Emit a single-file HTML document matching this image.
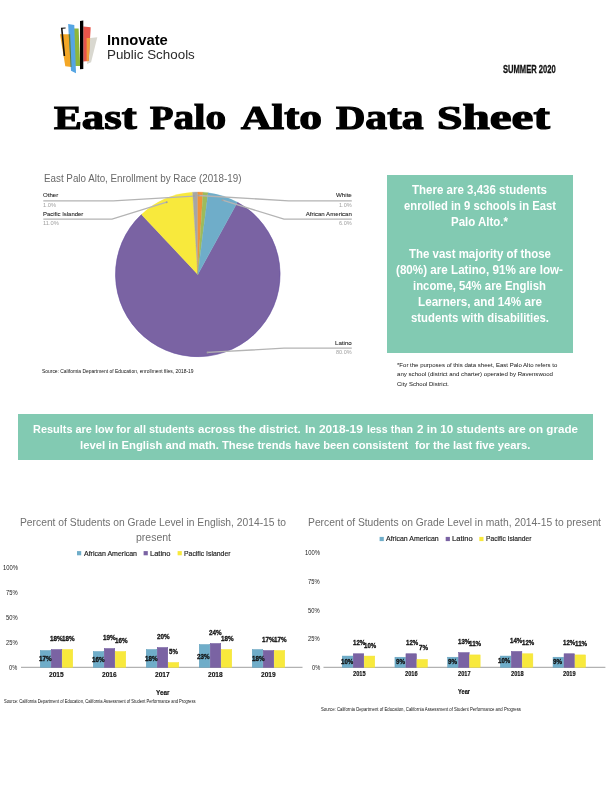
<!DOCTYPE html><html><head><meta charset="utf-8"><title>East Palo Alto Data Sheet</title><style>
html,body{margin:0;padding:0;background:#fff}
body{width:612px;height:792px;position:relative;overflow:hidden;font-family:"Liberation Sans",sans-serif}
.t{position:absolute;white-space:nowrap;line-height:1;transform-origin:0 50%}
#w{position:absolute;left:0;top:0;width:612px;height:792px;will-change:transform}
</style></head><body><div id="w">
<svg style="position:absolute;left:0;top:0" width="612" height="100" viewBox="0 0 612 100">
<polygon points="90.3,38 97.3,37.2 91.1,62.2 87,63.9" fill="#d9d8d0"/>
<polygon points="83.3,26.5 90.7,27.3 88.7,61 83.3,61.4" fill="#e8554a"/>
<polygon points="86.6,38 90.2,38 88.7,61 86.6,61.2" fill="#f0a03c"/>
<polygon points="60,34.3 70.2,34.3 71.6,67 65.3,66.3" fill="#f4a726"/>
<polygon points="60.9,27.8 65.6,27.5 65.6,28.4 62.6,28.7 65.2,56 63.6,56" fill="#111"/>
<polygon points="73.5,28.5 78.6,28.5 80.2,65.9 75.1,65.9" fill="#8fb63a"/>
<polygon points="68.1,24 74.3,24.9 76,73.3 71,70.8" fill="#55a5e3"/>
<polygon points="68.7,34.3 70.1,34.3 71.5,67 70.7,66.9" fill="#5f7d3a"/>
<polygon points="80,20.9 83.3,20.6 83.3,69 80,69.3" fill="#000"/>
</svg>
<svg style="position:absolute;left:0;top:0" width="612" height="400" viewBox="0 0 612 400"><path d="M197.8,274.4 L237.45,202.28 A82.3,82.3 0 1 1 141.46,214.41 Z" fill="#7a63a3" stroke="#7a63a3" stroke-width="0.35"/><path d="M197.8,274.4 L141.46,214.41 A82.3,82.3 0 0 1 192.63,192.26 Z" fill="#f8e93c" stroke="#f8e93c" stroke-width="0.35"/><path d="M197.8,274.4 L192.63,192.26 A82.3,82.3 0 0 1 197.80,192.10 Z" fill="#a6a6a6" stroke="#a6a6a6" stroke-width="0.35"/><path d="M197.8,274.4 L197.80,192.10 A82.3,82.3 0 0 1 202.97,192.26 Z" fill="#ef923c" stroke="#ef923c" stroke-width="0.35"/><path d="M197.8,274.4 L202.97,192.26 A82.3,82.3 0 0 1 208.11,192.75 Z" fill="#9dbb5c" stroke="#9dbb5c" stroke-width="0.35"/><path d="M197.8,274.4 L208.11,192.75 A82.3,82.3 0 0 1 237.45,202.28 Z" fill="#6fadc9" stroke="#6fadc9" stroke-width="0.35"/><path d="M237.35,202.46 A82.1,82.1 0 1 1 141.60,214.55" fill="none" stroke="#6650a0" stroke-width="0.5"/><g fill="none" stroke="#b4b4b4" stroke-width="1.3"><polyline points="43.3,200.8 113.3,200.8 193.9,196.1"/><polyline points="43.3,219.1 112,219.1 166.7,202.2"/><polyline points="351.8,200.8 288.7,200.8 198.6,195.5"/><polyline points="351.8,219.1 284,219.1 222.5,200.2"/><polyline points="351.8,348.2 284,348.2 207.6,352.4"/></g><circle cx="193.9" cy="196.1" r="1" fill="#a0a0a0"/><circle cx="166.7" cy="202.2" r="1" fill="#a0a0a0"/><circle cx="198.6" cy="195.5" r="1" fill="#a0a0a0"/><circle cx="222.5" cy="200.2" r="1" fill="#a0a0a0"/><circle cx="207.6" cy="352.4" r="1" fill="#a0a0a0"/></svg>
<div style="position:absolute;left:386.5px;top:175px;width:186.5px;height:177.5px;background:#82cab2"></div>
<div style="position:absolute;left:18.4px;top:414.1px;width:575.1px;height:45.8px;background:#82cab2"></div>
<svg style="position:absolute;left:0;top:0" width="612" height="792" viewBox="0 0 612 792"><line x1="21" y1="667.3" x2="302.5" y2="667.3" stroke="#b2b2b2" stroke-width="1.3"/><rect x="40.25" y="650.55" width="10.5" height="16.75" fill="#6fadc9" stroke="#5e9dbb" stroke-width="0.5"/><rect x="51.25" y="649.55" width="10.5" height="17.75" fill="#7a63a3" stroke="#6a539a" stroke-width="0.5"/><rect x="62.25" y="649.55" width="10.5" height="17.75" fill="#f8e93c" stroke="#f3e234" stroke-width="0.5"/><rect x="93.25" y="651.55" width="10.5" height="15.75" fill="#6fadc9" stroke="#5e9dbb" stroke-width="0.5"/><rect x="104.25" y="648.55" width="10.5" height="18.75" fill="#7a63a3" stroke="#6a539a" stroke-width="0.5"/><rect x="115.25" y="651.55" width="10.5" height="15.75" fill="#f8e93c" stroke="#f3e234" stroke-width="0.5"/><rect x="146.25" y="649.55" width="10.5" height="17.75" fill="#6fadc9" stroke="#5e9dbb" stroke-width="0.5"/><rect x="157.25" y="647.55" width="10.5" height="19.75" fill="#7a63a3" stroke="#6a539a" stroke-width="0.5"/><rect x="168.25" y="662.55" width="10.5" height="4.75" fill="#f8e93c" stroke="#f3e234" stroke-width="0.5"/><rect x="199.25" y="644.55" width="10.5" height="22.75" fill="#6fadc9" stroke="#5e9dbb" stroke-width="0.5"/><rect x="210.25" y="643.55" width="10.5" height="23.75" fill="#7a63a3" stroke="#6a539a" stroke-width="0.5"/><rect x="221.25" y="649.55" width="10.5" height="17.75" fill="#f8e93c" stroke="#f3e234" stroke-width="0.5"/><rect x="252.25" y="649.55" width="10.5" height="17.75" fill="#6fadc9" stroke="#5e9dbb" stroke-width="0.5"/><rect x="263.25" y="650.55" width="10.5" height="16.75" fill="#7a63a3" stroke="#6a539a" stroke-width="0.5"/><rect x="274.25" y="650.55" width="10.5" height="16.75" fill="#f8e93c" stroke="#f3e234" stroke-width="0.5"/><rect x="77" y="551.1" width="4.2" height="4.2" fill="#6fadc9"/><rect x="143.6" y="551.1" width="4.2" height="4.2" fill="#7a63a3"/><rect x="177.6" y="551.1" width="4.2" height="4.2" fill="#f8e93c"/></svg>
<svg style="position:absolute;left:0;top:0" width="612" height="792" viewBox="0 0 612 792"><line x1="323.5" y1="667.3" x2="605.4" y2="667.3" stroke="#b2b2b2" stroke-width="1.3"/><rect x="342.25" y="656.07" width="10.5" height="11.23" fill="#6fadc9" stroke="#5e9dbb" stroke-width="0.5"/><rect x="353.25" y="653.77" width="10.5" height="13.53" fill="#7a63a3" stroke="#6a539a" stroke-width="0.5"/><rect x="364.25" y="656.07" width="10.5" height="11.23" fill="#f8e93c" stroke="#f3e234" stroke-width="0.5"/><rect x="394.95" y="657.22" width="10.5" height="10.08" fill="#6fadc9" stroke="#5e9dbb" stroke-width="0.5"/><rect x="405.95" y="653.77" width="10.5" height="13.53" fill="#7a63a3" stroke="#6a539a" stroke-width="0.5"/><rect x="416.95" y="659.51" width="10.5" height="7.79" fill="#f8e93c" stroke="#f3e234" stroke-width="0.5"/><rect x="447.65" y="657.22" width="10.5" height="10.08" fill="#6fadc9" stroke="#5e9dbb" stroke-width="0.5"/><rect x="458.65" y="652.63" width="10.5" height="14.67" fill="#7a63a3" stroke="#6a539a" stroke-width="0.5"/><rect x="469.65" y="654.92" width="10.5" height="12.38" fill="#f8e93c" stroke="#f3e234" stroke-width="0.5"/><rect x="500.35" y="656.07" width="10.5" height="11.23" fill="#6fadc9" stroke="#5e9dbb" stroke-width="0.5"/><rect x="511.35" y="651.48" width="10.5" height="15.82" fill="#7a63a3" stroke="#6a539a" stroke-width="0.5"/><rect x="522.35" y="653.77" width="10.5" height="13.53" fill="#f8e93c" stroke="#f3e234" stroke-width="0.5"/><rect x="553.05" y="657.22" width="10.5" height="10.08" fill="#6fadc9" stroke="#5e9dbb" stroke-width="0.5"/><rect x="564.05" y="653.77" width="10.5" height="13.53" fill="#7a63a3" stroke="#6a539a" stroke-width="0.5"/><rect x="575.05" y="654.92" width="10.5" height="12.38" fill="#f8e93c" stroke="#f3e234" stroke-width="0.5"/><rect x="379.6" y="536.9" width="4.2" height="4.2" fill="#6fadc9"/><rect x="445.7" y="536.9" width="4.2" height="4.2" fill="#7a63a3"/><rect x="479.3" y="536.9" width="4.2" height="4.2" fill="#f8e93c"/></svg>
<div class="t" id="t0" style="left:107.00px;top:33.10px;font-size:14px;font-weight:700;color:#000;transform:scaleX(1.0560);">Innovate</div>
<div class="t" id="t1" style="left:107.00px;top:47.65px;font-size:13.3px;font-weight:400;color:#2a2a2a;transform:scaleX(1.0067);">Public Schools</div>
<div class="t" id="t2" style="left:502.60px;top:63.90px;font-size:11px;font-weight:700;color:#111;transform:scaleX(0.6883);-webkit-text-stroke:0.3px #111;">SUMMER 2020</div>
<div class="t" id="t3" style="left:54.40px;top:100.10px;font-size:33px;font-weight:700;color:#000;font-family:'Liberation Serif',serif;transform:scaleX(1.2629);-webkit-text-stroke:1.2px #000;">E<span style="font-size:35.5px">ast</span></div>
<div class="t" id="t4" style="left:149.50px;top:100.10px;font-size:33px;font-weight:700;color:#000;font-family:'Liberation Serif',serif;transform:scaleX(1.1625);-webkit-text-stroke:1.2px #000;">P<span style="font-size:35.5px">alo</span></div>
<div class="t" id="t5" style="left:241.00px;top:100.10px;font-size:33px;font-weight:700;color:#000;font-family:'Liberation Serif',serif;transform:scaleX(1.2800);-webkit-text-stroke:1.2px #000;">A<span style="font-size:35.5px">lto</span></div>
<div class="t" id="t6" style="left:335.60px;top:100.10px;font-size:33px;font-weight:700;color:#000;font-family:'Liberation Serif',serif;transform:scaleX(1.2294);-webkit-text-stroke:1.2px #000;">D<span style="font-size:35.5px">ata</span></div>
<div class="t" id="t7" style="left:436.50px;top:100.10px;font-size:33px;font-weight:700;color:#000;font-family:'Liberation Serif',serif;transform:scaleX(1.3848);-webkit-text-stroke:1.2px #000;">S<span style="font-size:35.5px">heet</span></div>
<div class="t" id="t8" style="left:43.70px;top:174.20px;font-size:10.4px;font-weight:400;color:#686868;transform:scaleX(0.9446);">East Palo Alto, Enrollment by Race (2018-19)</div>
<div class="t" id="t9" style="left:43.30px;top:192.05px;font-size:6.1px;font-weight:400;color:#222;transform:scaleX(1.0033);-webkit-text-stroke:0.08px #222;">Other</div>
<div class="t" id="t10" style="left:43.30px;top:201.50px;font-size:6px;font-weight:400;color:#a0a0a0;transform:scaleX(0.9498);">1.0%</div>
<div class="t" id="t11" style="left:43.30px;top:210.75px;font-size:6.1px;font-weight:400;color:#222;transform:scaleX(0.9751);-webkit-text-stroke:0.08px #222;">Pacific Islander</div>
<div class="t" id="t12" style="left:43.30px;top:220.00px;font-size:6px;font-weight:400;color:#a0a0a0;transform:scaleX(0.9591);">11.0%</div>
<div class="t" id="t13" style="left:336.00px;top:192.05px;font-size:6.1px;font-weight:400;color:#222;transform:scaleX(1.0142);-webkit-text-stroke:0.08px #222;">White</div>
<div class="t" id="t14" style="left:339.10px;top:201.70px;font-size:6px;font-weight:400;color:#a0a0a0;transform:scaleX(0.9279);">1.0%</div>
<div class="t" id="t15" style="left:305.80px;top:210.75px;font-size:6.1px;font-weight:400;color:#222;-webkit-text-stroke:0.08px #222;">African American</div>
<div class="t" id="t16" style="left:339.10px;top:220.10px;font-size:6px;font-weight:400;color:#a0a0a0;transform:scaleX(0.9279);">6.0%</div>
<div class="t" id="t17" style="left:335.00px;top:339.85px;font-size:6.1px;font-weight:400;color:#222;transform:scaleX(1.0115);-webkit-text-stroke:0.08px #222;">Latino</div>
<div class="t" id="t18" style="left:336.20px;top:349.00px;font-size:6px;font-weight:400;color:#a0a0a0;transform:scaleX(0.9168);">80.0%</div>
<div class="t" id="t19" style="left:42.10px;top:369.30px;font-size:5.2px;font-weight:400;color:#111;transform:scaleX(0.9484);">Source: California Department of Education, enrollment files, 2018-19</div>
<div class="t" id="t20" style="left:412.20px;top:184.20px;font-size:12.4px;font-weight:700;color:#fff;transform:scaleX(0.9290);">There are 3,436 students</div>
<div class="t" id="t21" style="left:403.70px;top:200.10px;font-size:12.4px;font-weight:700;color:#fff;transform:scaleX(0.9084);">enrolled in 9 schools in East</div>
<div class="t" id="t22" style="left:451.20px;top:215.80px;font-size:12.4px;font-weight:700;color:#fff;transform:scaleX(0.9268);">Palo Alto.*</div>
<div class="t" id="t23" style="left:408.70px;top:248.30px;font-size:12.4px;font-weight:700;color:#fff;transform:scaleX(0.9248);">The vast majority of those</div>
<div class="t" id="t24" style="left:396.20px;top:264.10px;font-size:12.4px;font-weight:700;color:#fff;transform:scaleX(0.9400);">(80%) are Latino, 91% are low-</div>
<div class="t" id="t25" style="left:413.20px;top:280.10px;font-size:12.4px;font-weight:700;color:#fff;transform:scaleX(0.9153);">income, 54% are English</div>
<div class="t" id="t26" style="left:417.70px;top:295.80px;font-size:12.4px;font-weight:700;color:#fff;transform:scaleX(0.9425);">Learners, and 14% are</div>
<div class="t" id="t27" style="left:410.70px;top:311.80px;font-size:12.4px;font-weight:700;color:#fff;transform:scaleX(0.9152);">students with disabilities.</div>
<div class="t" id="t28" style="left:397.00px;top:363.10px;font-size:5.8px;font-weight:400;color:#111;transform:scaleX(1.0407);">*For the purposes of this data sheet, East Palo Alto refers to</div>
<div class="t" id="t29" style="left:397.00px;top:372.40px;font-size:5.8px;font-weight:400;color:#111;transform:scaleX(1.0524);">any school (district and charter) operated by Ravenswood</div>
<div class="t" id="t30" style="left:397.00px;top:381.60px;font-size:5.8px;font-weight:400;color:#111;transform:scaleX(1.0345);">City School District.</div>
<div class="t" id="t31" style="left:33.30px;top:424.40px;font-size:11.8px;font-weight:700;color:#fff;transform:scaleX(0.9262);">Results are low for all students</div>
<div class="t" id="t32" style="left:198.00px;top:424.40px;font-size:11.8px;font-weight:700;color:#fff;transform:scaleX(0.9799);">across the district.</div>
<div class="t" id="t33" style="left:304.80px;top:424.40px;font-size:11.8px;font-weight:700;color:#fff;transform:scaleX(1.0129);">In 2018-19</div>
<div class="t" id="t34" style="left:366.90px;top:424.40px;font-size:11.8px;font-weight:700;color:#fff;transform:scaleX(0.9014);">less than</div>
<div class="t" id="t35" style="left:417.20px;top:424.40px;font-size:11.8px;font-weight:700;color:#fff;transform:scaleX(0.9862);">2 in 10 students are on grade</div>
<div class="t" id="t36" style="left:79.80px;top:440.40px;font-size:11.8px;font-weight:700;color:#fff;transform:scaleX(0.9588);">level in English and math.</div>
<div class="t" id="t37" style="left:222.40px;top:440.40px;font-size:11.8px;font-weight:700;color:#fff;transform:scaleX(0.9472);">These trends have been consistent</div>
<div class="t" id="t38" style="left:415.30px;top:440.40px;font-size:11.8px;font-weight:700;color:#fff;transform:scaleX(0.9504);">for the last five years.</div>
<div class="t" id="t39" style="left:9.30px;top:664.90px;font-size:6.6px;font-weight:400;color:#222;transform:scaleX(0.8603);">0%</div>
<div class="t" id="t40" style="left:5.90px;top:639.90px;font-size:6.6px;font-weight:400;color:#222;transform:scaleX(0.8786);">25%</div>
<div class="t" id="t41" style="left:5.90px;top:614.90px;font-size:6.6px;font-weight:400;color:#222;transform:scaleX(0.8786);">50%</div>
<div class="t" id="t42" style="left:5.90px;top:589.90px;font-size:6.6px;font-weight:400;color:#222;transform:scaleX(0.8786);">75%</div>
<div class="t" id="t43" style="left:2.50px;top:564.90px;font-size:6.6px;font-weight:400;color:#222;transform:scaleX(0.8889);">100%</div>
<div class="t" id="t44" style="left:49.45px;top:670.90px;font-size:7.2px;font-weight:700;color:#111;transform:scaleX(0.9187);-webkit-text-stroke:0.15px #111;">2015</div>
<div class="t" id="t45" style="left:39.00px;top:655.30px;font-size:7px;font-weight:700;color:#111;transform:scaleX(0.8990);-webkit-text-stroke:0.3px #111;">17%</div>
<div class="t" id="t46" style="left:50.30px;top:634.50px;font-size:7px;font-weight:700;color:#111;transform:scaleX(0.8990);-webkit-text-stroke:0.3px #111;">18%</div>
<div class="t" id="t47" style="left:62.20px;top:634.50px;font-size:7px;font-weight:700;color:#111;transform:scaleX(0.8990);-webkit-text-stroke:0.3px #111;">18%</div>
<div class="t" id="t48" style="left:102.45px;top:670.90px;font-size:7.2px;font-weight:700;color:#111;transform:scaleX(0.9187);-webkit-text-stroke:0.15px #111;">2016</div>
<div class="t" id="t49" style="left:92.00px;top:656.00px;font-size:7px;font-weight:700;color:#111;transform:scaleX(0.8990);-webkit-text-stroke:0.3px #111;">16%</div>
<div class="t" id="t50" style="left:103.20px;top:634.00px;font-size:7px;font-weight:700;color:#111;transform:scaleX(0.8990);-webkit-text-stroke:0.3px #111;">19%</div>
<div class="t" id="t51" style="left:115.20px;top:636.50px;font-size:7px;font-weight:700;color:#111;transform:scaleX(0.8990);-webkit-text-stroke:0.3px #111;">16%</div>
<div class="t" id="t52" style="left:155.45px;top:670.90px;font-size:7.2px;font-weight:700;color:#111;transform:scaleX(0.9187);-webkit-text-stroke:0.15px #111;">2017</div>
<div class="t" id="t53" style="left:144.50px;top:655.40px;font-size:7px;font-weight:700;color:#111;transform:scaleX(0.8990);-webkit-text-stroke:0.3px #111;">18%</div>
<div class="t" id="t54" style="left:156.50px;top:632.50px;font-size:7px;font-weight:700;color:#111;transform:scaleX(0.8990);-webkit-text-stroke:0.3px #111;">20%</div>
<div class="t" id="t55" style="left:169.20px;top:647.90px;font-size:7px;font-weight:700;color:#111;transform:scaleX(0.8691);-webkit-text-stroke:0.3px #111;">5%</div>
<div class="t" id="t56" style="left:208.45px;top:670.90px;font-size:7.2px;font-weight:700;color:#111;transform:scaleX(0.9187);-webkit-text-stroke:0.15px #111;">2018</div>
<div class="t" id="t57" style="left:197.30px;top:652.50px;font-size:7px;font-weight:700;color:#111;transform:scaleX(0.8990);-webkit-text-stroke:0.3px #111;">23%</div>
<div class="t" id="t58" style="left:209.00px;top:629.00px;font-size:7px;font-weight:700;color:#111;transform:scaleX(0.8990);-webkit-text-stroke:0.3px #111;">24%</div>
<div class="t" id="t59" style="left:220.90px;top:634.50px;font-size:7px;font-weight:700;color:#111;transform:scaleX(0.8990);-webkit-text-stroke:0.3px #111;">18%</div>
<div class="t" id="t60" style="left:261.45px;top:670.90px;font-size:7.2px;font-weight:700;color:#111;transform:scaleX(0.9187);-webkit-text-stroke:0.15px #111;">2019</div>
<div class="t" id="t61" style="left:251.50px;top:655.40px;font-size:7px;font-weight:700;color:#111;transform:scaleX(0.8990);-webkit-text-stroke:0.3px #111;">18%</div>
<div class="t" id="t62" style="left:262.00px;top:636.20px;font-size:7px;font-weight:700;color:#111;transform:scaleX(0.8990);-webkit-text-stroke:0.3px #111;">17%</div>
<div class="t" id="t63" style="left:274.20px;top:636.20px;font-size:7px;font-weight:700;color:#111;transform:scaleX(0.8990);-webkit-text-stroke:0.3px #111;">17%</div>
<div class="t" id="t64" style="left:20.20px;top:518.00px;font-size:10px;font-weight:400;color:#707070;transform:scaleX(1.0290);">Percent of Students on Grade Level in English, 2014-15 to</div>
<div class="t" id="t65" style="left:135.70px;top:532.60px;font-size:10px;font-weight:400;color:#707070;transform:scaleX(1.0492);">present</div>
<div class="t" id="t66" style="left:84.20px;top:550.70px;font-size:6.8px;font-weight:400;color:#1a1a1a;transform:scaleX(1.0316);-webkit-text-stroke:0.15px #1a1a1a;">African American</div>
<div class="t" id="t67" style="left:149.50px;top:550.70px;font-size:6.8px;font-weight:400;color:#1a1a1a;transform:scaleX(1.1062);-webkit-text-stroke:0.15px #1a1a1a;">Latino</div>
<div class="t" id="t68" style="left:183.50px;top:550.70px;font-size:6.8px;font-weight:400;color:#1a1a1a;transform:scaleX(1.0088);-webkit-text-stroke:0.15px #1a1a1a;">Pacific Islander</div>
<div class="t" id="t69" style="left:155.95px;top:688.90px;font-size:7.2px;font-weight:700;color:#111;transform:scaleX(0.8880);-webkit-text-stroke:0.15px #111;">Year</div>
<div class="t" id="t70" style="left:4.00px;top:699.95px;font-size:4.9px;font-weight:400;color:#111;transform:scaleX(0.8366);">Source: California Department of Education, California Assessment of Student Performance and Progress</div>
<div class="t" id="t71" style="left:311.80px;top:664.90px;font-size:6.6px;font-weight:400;color:#222;transform:scaleX(0.8603);">0%</div>
<div class="t" id="t72" style="left:308.40px;top:636.20px;font-size:6.6px;font-weight:400;color:#222;transform:scaleX(0.8786);">25%</div>
<div class="t" id="t73" style="left:308.40px;top:607.50px;font-size:6.6px;font-weight:400;color:#222;transform:scaleX(0.8786);">50%</div>
<div class="t" id="t74" style="left:308.40px;top:578.80px;font-size:6.6px;font-weight:400;color:#222;transform:scaleX(0.8786);">75%</div>
<div class="t" id="t75" style="left:305.00px;top:550.10px;font-size:6.6px;font-weight:400;color:#222;transform:scaleX(0.8889);">100%</div>
<div class="t" id="t76" style="left:352.50px;top:671.40px;font-size:6.4px;font-weight:700;color:#111;transform:scaleX(0.8862);-webkit-text-stroke:0.15px #111;">2015</div>
<div class="t" id="t77" style="left:341.40px;top:659.00px;font-size:6.8px;font-weight:700;color:#111;transform:scaleX(0.8964);-webkit-text-stroke:0.3px #111;">10%</div>
<div class="t" id="t78" style="left:352.90px;top:640.00px;font-size:6.8px;font-weight:700;color:#111;transform:scaleX(0.8964);-webkit-text-stroke:0.3px #111;">12%</div>
<div class="t" id="t79" style="left:364.40px;top:642.50px;font-size:6.8px;font-weight:700;color:#111;transform:scaleX(0.8964);-webkit-text-stroke:0.3px #111;">10%</div>
<div class="t" id="t80" style="left:405.20px;top:671.40px;font-size:6.4px;font-weight:700;color:#111;transform:scaleX(0.8862);-webkit-text-stroke:0.15px #111;">2016</div>
<div class="t" id="t81" style="left:395.70px;top:659.00px;font-size:6.8px;font-weight:700;color:#111;transform:scaleX(0.9157);-webkit-text-stroke:0.3px #111;">9%</div>
<div class="t" id="t82" style="left:405.60px;top:639.60px;font-size:6.8px;font-weight:700;color:#111;transform:scaleX(0.8964);-webkit-text-stroke:0.3px #111;">12%</div>
<div class="t" id="t83" style="left:418.50px;top:645.30px;font-size:6.8px;font-weight:700;color:#111;transform:scaleX(0.9157);-webkit-text-stroke:0.3px #111;">7%</div>
<div class="t" id="t84" style="left:457.90px;top:671.40px;font-size:6.4px;font-weight:700;color:#111;transform:scaleX(0.8862);-webkit-text-stroke:0.15px #111;">2017</div>
<div class="t" id="t85" style="left:447.80px;top:659.00px;font-size:6.8px;font-weight:700;color:#111;transform:scaleX(0.9157);-webkit-text-stroke:0.3px #111;">9%</div>
<div class="t" id="t86" style="left:457.50px;top:638.80px;font-size:6.8px;font-weight:700;color:#111;transform:scaleX(0.8964);-webkit-text-stroke:0.3px #111;">13%</div>
<div class="t" id="t87" style="left:469.40px;top:641.20px;font-size:6.8px;font-weight:700;color:#111;transform:scaleX(0.9218);-webkit-text-stroke:0.3px #111;">11%</div>
<div class="t" id="t88" style="left:510.60px;top:671.40px;font-size:6.4px;font-weight:700;color:#111;transform:scaleX(0.8862);-webkit-text-stroke:0.15px #111;">2018</div>
<div class="t" id="t89" style="left:498.20px;top:658.10px;font-size:6.8px;font-weight:700;color:#111;transform:scaleX(0.8964);-webkit-text-stroke:0.3px #111;">10%</div>
<div class="t" id="t90" style="left:510.10px;top:637.60px;font-size:6.8px;font-weight:700;color:#111;transform:scaleX(0.8964);-webkit-text-stroke:0.3px #111;">14%</div>
<div class="t" id="t91" style="left:521.90px;top:640.40px;font-size:6.8px;font-weight:700;color:#111;transform:scaleX(0.8964);-webkit-text-stroke:0.3px #111;">12%</div>
<div class="t" id="t92" style="left:563.30px;top:671.40px;font-size:6.4px;font-weight:700;color:#111;transform:scaleX(0.8862);-webkit-text-stroke:0.15px #111;">2019</div>
<div class="t" id="t93" style="left:553.40px;top:659.00px;font-size:6.8px;font-weight:700;color:#111;transform:scaleX(0.9157);-webkit-text-stroke:0.3px #111;">9%</div>
<div class="t" id="t94" style="left:563.10px;top:639.70px;font-size:6.8px;font-weight:700;color:#111;transform:scaleX(0.8964);-webkit-text-stroke:0.3px #111;">12%</div>
<div class="t" id="t95" style="left:574.90px;top:641.20px;font-size:6.8px;font-weight:700;color:#111;transform:scaleX(0.9218);-webkit-text-stroke:0.3px #111;">11%</div>
<div class="t" id="t96" style="left:307.50px;top:518.00px;font-size:10px;font-weight:400;color:#707070;transform:scaleX(1.0314);">Percent of Students on Grade Level in math, 2014-15 to present</div>
<div class="t" id="t97" style="left:386.30px;top:536.10px;font-size:6.8px;font-weight:400;color:#1a1a1a;transform:scaleX(1.0258);-webkit-text-stroke:0.15px #1a1a1a;">African American</div>
<div class="t" id="t98" style="left:452.40px;top:536.10px;font-size:6.8px;font-weight:400;color:#1a1a1a;transform:scaleX(1.1116);-webkit-text-stroke:0.15px #1a1a1a;">Latino</div>
<div class="t" id="t99" style="left:485.50px;top:536.10px;font-size:6.8px;font-weight:400;color:#1a1a1a;transform:scaleX(0.9871);-webkit-text-stroke:0.15px #1a1a1a;">Pacific Islander</div>
<div class="t" id="t100" style="left:457.70px;top:688.60px;font-size:6.4px;font-weight:700;color:#111;transform:scaleX(0.8879);-webkit-text-stroke:0.15px #111;">Year</div>
<div class="t" id="t101" style="left:320.70px;top:708.05px;font-size:4.9px;font-weight:400;color:#111;transform:scaleX(0.8738);">Source: California Department of Education, California Assessment of Student Performance and Progress</div>
</div></body></html>
